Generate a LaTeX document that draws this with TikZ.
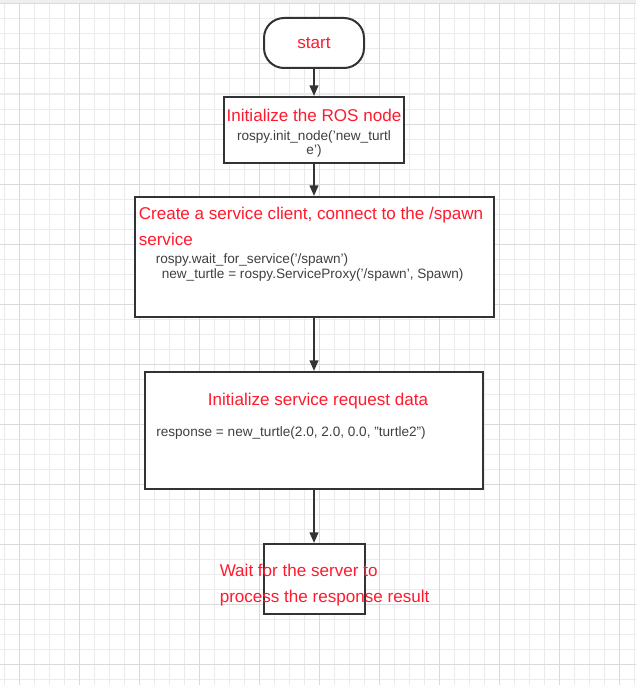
\documentclass[tikz,border=0pt]{standalone}
\usepackage{fontspec}
\setmainfont{Liberation Sans}
\usetikzlibrary{positioning,arrows.meta}

\definecolor{stepred}{HTML}{FF1A2E}
\definecolor{codegray}{HTML}{404040}
\definecolor{edgegray}{HTML}{333333}
\definecolor{gridminor}{HTML}{EBEBEB}
\definecolor{gridmajor}{HTML}{DADADA}
\definecolor{gridband}{HTML}{EFEFEF}

\begin{document}
\begin{tikzpicture}[
    x=0.75pt, y=-0.75pt,
    node distance=20.25pt,
    terminal/.style={
        rectangle,
        draw=edgegray,
        line width=1.5pt,
        rounded corners=15pt,
        minimum width=75pt,
        minimum height=37.5pt,
        fill=white,
        text=stepred,
        font=\fontsize{12.8}{15}\selectfont
    },
    proc/.style={
        rectangle,
        draw=edgegray,
        line width=1.5pt,
        fill=white,
        inner sep=0pt
    },
    title/.style={text=stepred, font=\fontsize{12.8}{15}\selectfont, inner sep=0pt},
    code/.style={text=codegray, font=\fontsize{10.2}{12}\selectfont, inner sep=0pt},
    minorline/.style={draw=gridminor, line width=0.75pt},
    majorline/.style={draw=gridmajor, line width=0.75pt},
    arrow/.style={-{Triangle[length=8pt,width=6.5pt]}, draw=edgegray, line width=1.5pt}
]
    \useasboundingbox (0,0) rectangle (636,685);

    % Background grid
    \fill[gridband] (0,0) rectangle (636,4);
    \foreach \gx in {4,19,...,634} \draw[minorline] (\gx,4) -- (\gx,685);
    \foreach \gy in {4,19,...,679} \draw[minorline] (0,\gy) -- (636,\gy);
    \foreach \gx in {19,79,...,619} \draw[majorline] (\gx,4) -- (\gx,685);
    \foreach \gy in {4,64,...,664} \draw[majorline] (0,\gy) -- (636,\gy);

    % Flow boxes
    \node[terminal] (start) at (314,43) {start};
    \node[proc, minimum width=135pt, minimum height=49.5pt, below=20.25pt of start] (init) {};
    \node[proc, minimum width=269.25pt, minimum height=90pt, below=24pt of init] (client) {};
    \node[proc, minimum width=253.5pt, minimum height=87.75pt, below=39.75pt of client] (request) {};
    \node[proc, minimum width=75.75pt, minimum height=52.5pt, below=39.75pt of request] (wait) {};

    % Texts
    \node[title, anchor=base] (initT) at ([shift={(0,25)}]init.north) {Initialize the ROS node};
    \node[code, anchor=base] (initC1) at ([shift={(0,44)}]init.north) {rospy.init\_node('new\_turtl};
    \node[code, anchor=base] (initC2) at ([shift={(0,58)}]init.north) {e')};

    \node[title, anchor=base west] (clientT1) at ([shift={(5,23)}]client.north west) {Create a service client, connect to the /spawn};
    \node[title, anchor=base west] (clientT2) at ([shift={(5,49)}]client.north west) {service};
    \node[code, anchor=base west] (clientC1) at ([shift={(22,67)}]client.north west) {rospy.wait\_for\_service('/spawn')};
    \node[code, anchor=base west] (clientC2) at ([shift={(28,82)}]client.north west) {new\_turtle = rospy.ServiceProxy('/spawn', Spawn)};

    \node[title, anchor=base] (requestT) at ([shift={(4,34)}]request.north) {Initialize service request data};
    \node[code, anchor=base west] (requestC) at ([shift={(12,65)}]request.north west) {response = new\_turtle(2.0, 2.0, 0.0, "turtle2")};

    \node[title, anchor=base west] (waitT1) at ([shift={(-43,33)}]wait.north west) {Wait for the server to};
    \node[title, anchor=base west] (waitT2) at ([shift={(-43,59)}]wait.north west) {process the response result};

    % Connections
    \draw[arrow] (start) -- (init);
    \draw[arrow] (init) -- (client);
    \draw[arrow] (client) -- (request);
    \draw[arrow] (request) -- (wait);
\end{tikzpicture}
\end{document}
